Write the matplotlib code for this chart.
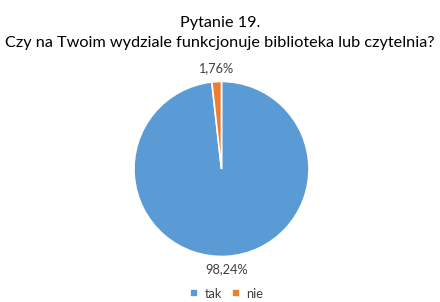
import matplotlib
matplotlib.use('Agg')
import matplotlib.pyplot as plt

categories = ['tak', 'nie']
values = [98.24, 1.76]
colors = ['#5B9BD5', '#ED7D31']
title = 'Pytanie 19.\nCzy na Twoim wydziale funkcjonuje biblioteka lub czytelnia?'

plt.rcParams['font.family'] = ['Lato', 'DejaVu Sans']

fig = plt.figure(figsize=(4.4, 3.02), dpi=100)
fig.patch.set_facecolor('white')

# pie axes: square in pixels, centered around (221.5, 169)
ax = fig.add_axes([0.3045, 0.1507, 175 / 440, 175 / 302])


def fmt(p):
    return ('%.2f%%' % p).replace('.', ',')


wedges, texts, autotexts = ax.pie(values, colors=colors, startangle=90, counterclock=False,
                                  autopct=fmt, pctdistance=1.15,
                                  wedgeprops=dict(edgecolor='white', linewidth=1.2),
                                  textprops=dict(fontsize=9.2, color='#404040'))
ax.set_xlim(-1, 1)
ax.set_ylim(-1, 1)
ax.set_aspect('equal')

fig.text(0.5, 1 - 33 / 302, title, ha='center', va='center', fontsize=11.7, color='#000000',
         linespacing=1.55)

fig.legend(wedges, categories, loc='center', bbox_to_anchor=(0.515, 0.027), ncol=2,
           frameon=False, fontsize=9.2, handlelength=0.6, handleheight=0.6,
           handletextpad=0.5, columnspacing=0.8, labelcolor='#404040')

fig.savefig('out.png', dpi=100)
